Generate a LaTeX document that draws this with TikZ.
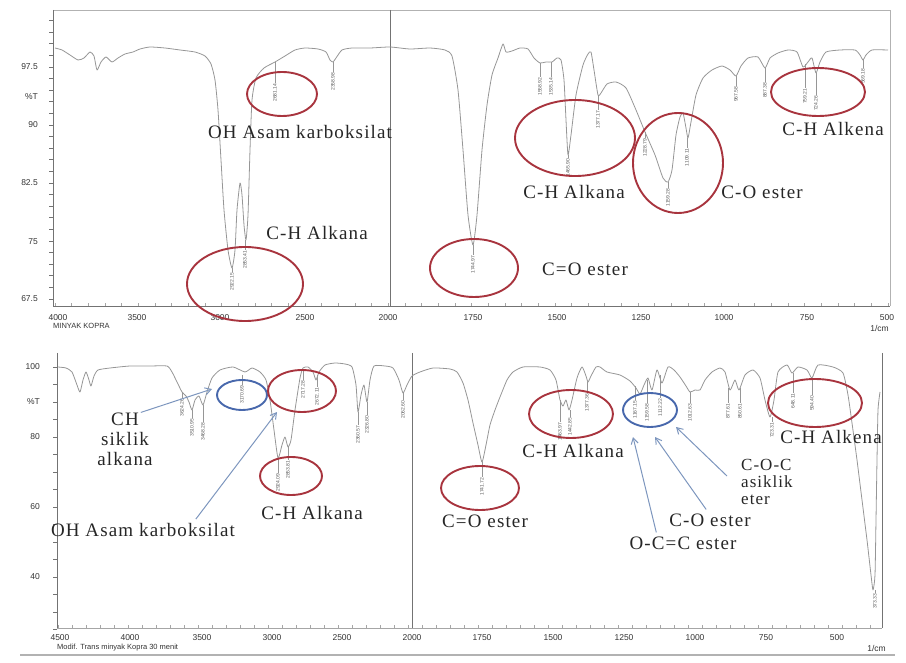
\documentclass[tikz,border=0pt]{standalone}
\usepackage{fontspec}
\setmainfont{Liberation Serif}
\setsansfont{Liberation Sans}
\newfontfamily\bandfont[LetterSpace=6]{Liberation Serif}
\usetikzlibrary{shapes.geometric,arrows.meta}

\definecolor{ringred}{RGB}{168,52,62}
\definecolor{ringblue}{RGB}{72,104,172}
\definecolor{pointerblue}{RGB}{125,150,190}
\definecolor{trace}{RGB}{150,150,150}

\tikzset{
  spectrum/.style={draw=trace, line width=0.8pt, line join=round},
  axisline/.style={draw=black!55, line width=0.6pt},
  redring/.style={ellipse, draw=ringred, line width=1.9pt, inner sep=0pt},
  bluering/.style={ellipse, draw=ringblue, line width=1.9pt, inner sep=0pt},
  band/.style={font=\bandfont\fontsize{19}{20}\selectfont, text=black!85, inner sep=0pt, align=center},
  bandsmall/.style={font=\bandfont\fontsize{17}{17}\selectfont, text=black!85, inner sep=0pt, align=left},
  peak/.style={font=\sffamily\fontsize{5}{5}\selectfont, rotate=90, text=black!65, inner sep=0.5pt},
  peaktick/.style={draw=trace, line width=0.5pt},
  ticklbl/.style={font=\sffamily\fontsize{8.5}{9}\selectfont, text=black!80, inner sep=0pt},
  pointer/.style={draw=pointerblue, line width=1pt, -{Straight Barb[length=6pt,width=7pt]}},
}

\begin{document}
\begin{tikzpicture}[x=1pt, y=-1pt]
    \useasboundingbox (0,0) rectangle (906,663);

    % Upper spectrum: MINYAK KOPRA
    \draw[axisline, draw=black!30] (53,10) -- (890,10) -- (890,306);
    \draw[axisline] (53,10) -- (53,306) -- (890,306);
    \draw[axisline] (390,10) -- (390,306);
    \foreach \t in {0,...,24} {
      \draw[axisline] (53, 299-11.6*\t) -- (49, 299-11.6*\t);
    }
    \foreach \t in {0,...,50} {
      \draw[axisline, draw=black!35] (55+16.66*\t, 306) -- (55+16.66*\t, 303);
    }
    \node[ticklbl, anchor=east] (ya1) at (38,67) {97.5};
    \node[ticklbl, anchor=east] (ya2) at (38,97) {\%T};
    \node[ticklbl, anchor=east] (ya3) at (38,125) {90};
    \node[ticklbl, anchor=east] (ya4) at (38,183) {82.5};
    \node[ticklbl, anchor=east] (ya5) at (38,242) {75};
    \node[ticklbl, anchor=east] (ya6) at (38,299) {67.5};
    \foreach \xv/\lbl [count=\i] in {58/4000,137/3500,220/3000,305/2500,388/2000,473/1750,557/1500,641/1250,724/1000,807/750,887/500} {
      \node[ticklbl] (xa\i) at (\xv,318) {\lbl};
    }
    \node[ticklbl, anchor=east] (xaunit) at (889,328) {1/cm};
    \node[ticklbl, anchor=west, font=\sffamily\fontsize{7.5}{8}\selectfont] (nameA) at (53,326) {MINYAK KOPRA};

    \draw[spectrum] plot[smooth, tension=0.35] coordinates {
      (55,48) (62,50) (70,55) (78,60) (84,58) (90,52) (94,56) (97,70) (101,62) (106,57)
      (112,62) (118,58) (125,54) (133,52) (140,49) (150,47) (165,48) (180,50) (195,52)
      (205,56) (211,64) (215,80) (218,110) (221,160) (224,210) (228,250) (232,268)
      (235,250) (237,210) (240,183) (242,195) (244,225) (246,240) (248,215) (250,150)
      (252,100) (256,78) (264,68) (275,62) (285,56) (295,50) (305,48) (318,49) (326,52)
      (330,60) (333,62) (336,58) (342,50) (352,48) (370,48) (390,47) (410,49) (430,48)
      (445,50) (452,56) (458,90) (463,150) (468,215) (473,245) (477,215) (482,150)
      (487,105) (492,75) (498,58) (503,44) (506,52) (512,51) (520,48) (528,49) (534,58)
      (540,63) (546,62) (552,62) (557,58) (561,60) (564,80) (566,120) (568,155)
      (571,135) (576,95) (583,65) (588,54) (591,52) (594,70) (598,95) (601,93)
      (607,84) (616,82) (626,88) (636,110) (645,132) (655,155) (663,178) (668,182)
      (672,170) (676,135) (680,117) (683,113) (686,128) (688,138) (691,122) (696,95)
      (703,78) (712,70) (722,66) (730,70) (736,76) (741,66) (748,58) (758,57) (765,68)
      (770,58) (778,53) (788,50) (797,52) (803,67) (808,62) (812,58) (816,73) (820,62)
      (826,52) (840,50) (855,50) (860,55) (863,60) (866,55) (872,50) (888,50)};

    \foreach \px/\py/\ly/\val [count=\i] in {232/268/272/2922.15, 245/240/250/2853.41,
        275/62/83/2681.14, 333/62/72/2358.98, 473/245/255/1744.97, 540/63/77/1558.92,
        551/62/77/1535.14, 568/155/158/1465.90, 598/95/110/1377.17, 645/132/138/1228.79,
        668/182/188/1159.28, 687/138/148/1109.11, 736/76/86/967.58, 765/68/82/887.38,
        805/64/88/759.21, 816/73/95/724.26, 863/60/68/569.18} {
      \draw[peaktick] (\px,\py) -- (\px,\ly);
      \node[peak, anchor=east] (pa\i) at (\px,\ly) {\val};
    }

    % Bands, upper spectrum
    \node[redring, minimum width=70, minimum height=44] (ohring) at (282,94) {};
    \node[redring, minimum width=116, minimum height=74] (chring) at (245,284) {};
    \node[redring, minimum width=88, minimum height=58] (coring) at (474,268) {};
    \node[redring, minimum width=120, minimum height=76] (chringB) at (575,138) {};
    \node[redring, minimum width=90, minimum height=100] (esring) at (678,163) {};
    \node[redring, minimum width=94, minimum height=48] (alkring) at (818,92) {};

    \node[band] (ohtext) at (300,132) {OH Asam karboksilat};
    \node[band] (chtext) at (317,233) {C-H Alkana};
    \node[band] (cotext) at (585,269) {C=O ester};
    \node[band] (chtextB) at (574,192) {C-H Alkana};
    \node[band] (estext) at (762,192) {C-O ester};
    \node[band] (alktext) at (833,129) {C-H Alkena};

    % Lower spectrum: modified after 30 minutes
    \draw[axisline] (57,353) -- (57,628);
    \draw[axisline, draw=black!35] (57,628) -- (882,628);
    \draw[axisline] (412,353) -- (412,628);
    \draw[axisline, line width=1pt] (882,353) -- (882,628);
    \foreach \t in {0,...,15} {
      \draw[axisline] (57, 367+17.5*\t) -- (53, 367+17.5*\t);
    }
    \foreach \t in {0,...,58} {
      \draw[axisline, draw=black!35] (58+14*\t, 628) -- (58+14*\t, 625);
    }
    \node[ticklbl, anchor=east] (yb1) at (40,367) {100};
    \node[ticklbl, anchor=east] (yb2) at (40,402) {\%T};
    \node[ticklbl, anchor=east] (yb3) at (40,437) {80};
    \node[ticklbl, anchor=east] (yb4) at (40,507) {60};
    \node[ticklbl, anchor=east] (yb5) at (40,577) {40};
    \foreach \xv/\lbl [count=\i] in {60/4500,130/4000,202/3500,272/3000,342/2500,412/2000,482/1750,553/1500,624/1250,695/1000,766/750,837/500} {
      \node[ticklbl] (xb\i) at (\xv,638) {\lbl};
    }
    \node[ticklbl, anchor=east] (xbunit) at (886,648) {1/cm};
    \node[ticklbl, anchor=west, font=\sffamily\fontsize{7.5}{8}\selectfont] (nameB) at (57,648) {Modif. Trans minyak Kopra 30 menit};
    \draw[draw=black!30, line width=1.2pt] (20,655) -- (895,655);

    \draw[spectrum] plot[smooth, tension=0.35] coordinates {
      (58,367) (66,368) (72,372) (77,385) (80,392) (83,380) (86,372) (89,380) (91,386)
      (94,376) (98,370) (110,368) (130,366) (150,366) (167,366) (172,372) (177,382)
      (182,392) (186,396) (189,402) (192,410) (195,400) (199,396) (203,405) (207,392)
      (212,378) (220,370) (233,367) (245,372) (252,368) (260,372) (266,380) (270,400)
      (274,430) (278,458) (282,445) (285,437) (288,447) (291,440) (295,410) (300,378)
      (303,368) (308,367) (313,372) (316,380) (319,372) (325,365) (335,363) (345,364)
      (352,367) (356,385) (358,412) (361,395) (364,385) (367,402) (370,380) (374,366)
      (385,366) (393,368) (399,380) (403,393) (407,385) (412,376) (420,372) (433,368)
      (450,369) (457,372) (463,383) (468,400) (473,423) (478,445) (482,462) (486,445)
      (490,425) (495,410) (500,397) (507,380) (513,372) (523,367) (540,367) (550,370)
      (556,380) (560,400) (563,406) (566,400) (569,410) (572,400) (577,378) (582,367)
      (586,376) (588,382) (591,376) (596,367) (600,367) (607,372) (620,375) (630,381)
      (636,388) (640,394) (644,385) (648,378) (652,390) (657,370) (662,383) (668,367)
      (674,370) (680,377) (686,386) (690,392) (695,390) (700,390) (705,380) (712,372)
      (720,368) (725,372) (730,390) (735,380) (739,390) (745,375) (753,370) (760,378)
      (765,400) (770,417) (774,400) (778,372) (787,365) (792,373) (798,367) (807,370)
      (812,378) (818,365) (833,367) (843,373) (848,395) (852,423) (857,460) (862,500)
      (867,540) (871,575) (873,590) (875,575) (876,520) (877,460) (878,410) (880,392)};

    \foreach \px/\py/\ly/\val [count=\i] in {182/392/398/3624.26, 192/410/418/3510.95,
        203/405/422/3468.28, 242/375/385/3170.69, 278/458/473/2924.09, 288/447/460/2853.81,
        303/370/380/2717.28, 317/375/387/2672.11, 358/412/425/2360.57, 367/402/415/2326.80,
        403/393/400/2062.60, 482/462/477/1741.72, 560/400/422/1463.97, 570/410/417/1442.85,
        587/382/393/1377.36, 635/386/400/1167.15, 647/380/403/1159.58, 660/375/398/1112.22,
        690/392/403/1012.63, 728/388/403/877.61, 740/388/403/850.61, 772/417/422/723.31,
        793/373/393/648.11, 812/378/395/594.40, 875/590/593/373.33} {
      \draw[peaktick] (\px,\py) -- (\px,\ly);
      \node[peak, anchor=east] (pb\i) at (\px,\ly) {\val};
    }

    % Bands, lower spectrum
    \node[bluering, minimum width=50, minimum height=30] (sikring) at (242,395) {};
    \node[redring, minimum width=68, minimum height=42] (ohringB) at (302,391) {};
    \node[redring, minimum width=62, minimum height=38] (chringC) at (291,476) {};
    \node[redring, minimum width=78, minimum height=44] (coringB) at (480,488) {};
    \node[redring, minimum width=84, minimum height=48] (chringD) at (571,414) {};
    \node[bluering, minimum width=54, minimum height=34] (esringB) at (650,410) {};
    \node[redring, minimum width=94, minimum height=48] (alkringB) at (815,403) {};

    \node[band] (siklik) at (125,439) {CH\\siklik\\alkana};
    \node[band] (ohtextB) at (143,530) {OH Asam karboksilat};
    \node[band] (chtextC) at (312,513) {C-H Alkana};
    \node[band] (cotextB) at (485,521) {C=O ester};
    \node[band] (chtextD) at (573,451) {C-H Alkana};
    \node[bandsmall, anchor=north west] (coc) at (741,459) {C-O-C\\asiklik\\eter};
    \node[band] (estextB) at (710,520) {C-O ester};
    \node[band] (occ) at (683,543) {O-C=C ester};
    \node[band] (alktextB) at (831,437) {C-H Alkena};

    \coordinate (tipsik) at (212,389);
    \coordinate (tipoh) at (277,412);
    \coordinate (tipocc) at (633,437);
    \coordinate (tipes) at (655,437);
    \coordinate (tipcoc) at (676,427);

    \draw[pointer] ([xshift=-12pt]siklik.north east) -- (tipsik);
    \draw[pointer] ([xshift=145pt,yshift=4pt]ohtextB.north west) -- (tipoh);
    \draw[pointer] ([xshift=27pt,yshift=4pt]occ.north west) -- (tipocc);
    \draw[pointer] ([xshift=37pt,yshift=4pt]estextB.north west) -- (tipes);
    \draw[pointer] ([xshift=-14pt,yshift=-17pt]coc.north west) -- (tipcoc);

  \end{tikzpicture}
\end{document}
